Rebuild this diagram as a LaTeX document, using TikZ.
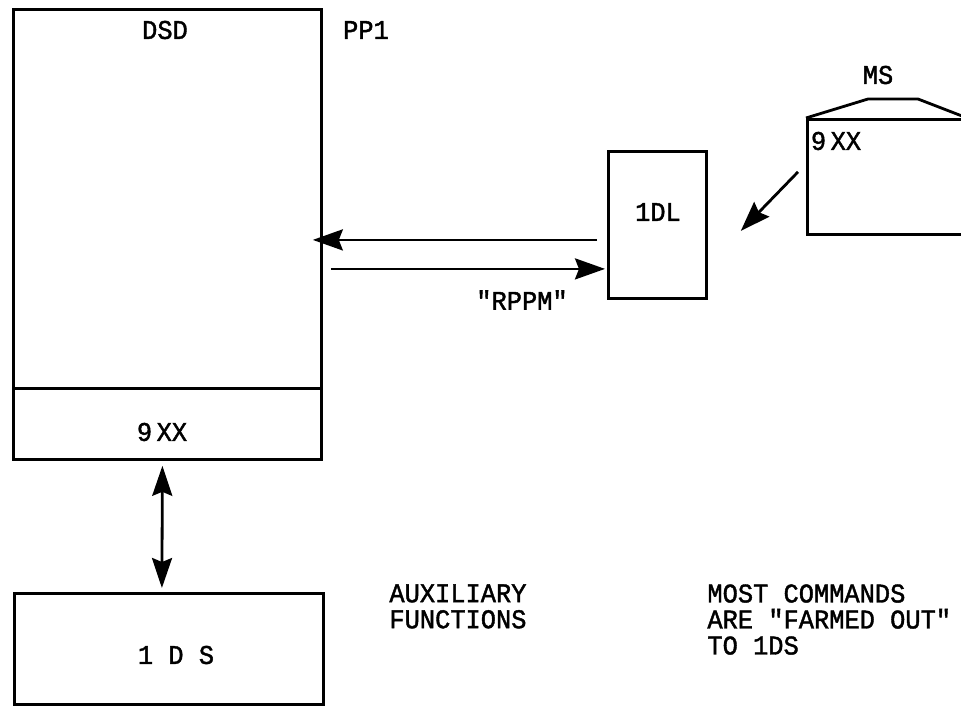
\documentclass[tikz,border=0pt]{standalone}
\usepackage{fontspec}
\setmonofont[FakeStretch=0.94, FakeBold=1.5]{Liberation Mono}
\usetikzlibrary{arrows.meta,positioning}
\begin{document}
\begin{tikzpicture}[x=1pt, y=-1pt, line width=2.8pt,
    font=\ttfamily\fontsize{27}{26}\selectfont,
    blk/.style ={draw, inner sep=0pt, anchor=north west},
    lbl/.style ={inner sep=0pt},
    note/.style={inner sep=0pt, anchor=north west, align=left},
    arr/.style ={-{Stealth[length=30pt,width=21pt,inset=4pt]}},
    dbl/.style ={{Stealth[length=30pt,width=20pt,inset=4pt]}-{Stealth[length=30pt,width=20pt,inset=4pt]}},
  ]
  \useasboundingbox (0,0) rectangle (961,705);
  % PP1 with its 9XX part
  \node[blk, minimum width=308pt, minimum height=450pt] (dsd) at (12,8) {};
  \draw ([yshift=72pt]dsd.south west) -- ([yshift=72pt]dsd.south east);
  \node[lbl] (dsdt) at (165,30) {DSD};
  \node[lbl] (pp1) at (366,30) {PP1};
  \node[lbl] (nine) at (162,432) {9\,XX};
  % 1DS
  \node[blk, minimum width=309pt, minimum height=111pt] (ds) at (13,592) {};
  \node[lbl] (dst) at (176,655) {1 D S};
  \draw[dbl] ([xshift=-5pt,yshift=-5pt]dsd.south) -- ([xshift=-7pt,yshift=4pt]ds.north);
  % 1DL
  \node[blk, minimum width=98pt, minimum height=147pt] (dl) at (607,150) {};
  \node[lbl] (dlt) at (658,212) {1DL};
  \draw[arr] ([xshift=-10pt,yshift=-15pt]dl.west) -- ([xshift=-10pt,yshift=-15pt]dl.west -| dsd.east);
  \draw[arr] ([xshift=8pt,yshift=-44pt]dl.west -| dsd.east) -- ([xshift=-2pt,yshift=-44pt]dl.west);
  \node[lbl] (rppm) at (522,300) {"RPPM"};
  % MS
  \node[blk, minimum width=170pt, minimum height=115pt] (ms) at (806,118) {};
  \draw[line join=round] (ms.north west) -- (868,99) -- (918,99) -- (962,116);
  \node[lbl] (mst) at (878,75) {MS};
  \node[lbl] (msn) at (836,141) {9\,XX};
  \draw[arr] ([xshift=-8pt,yshift=5pt]ms.west) -- ([xshift=33pt,yshift=-6pt]dl.east);
  % notes
  \node[note] (aux) at (388,583) {AUXILIARY\\FUNCTIONS};
  \node[note] (most) at (706,583) {MOST COMMANDS\\ARE "FARMED OUT"\\TO 1DS};
\end{tikzpicture}
\end{document}
